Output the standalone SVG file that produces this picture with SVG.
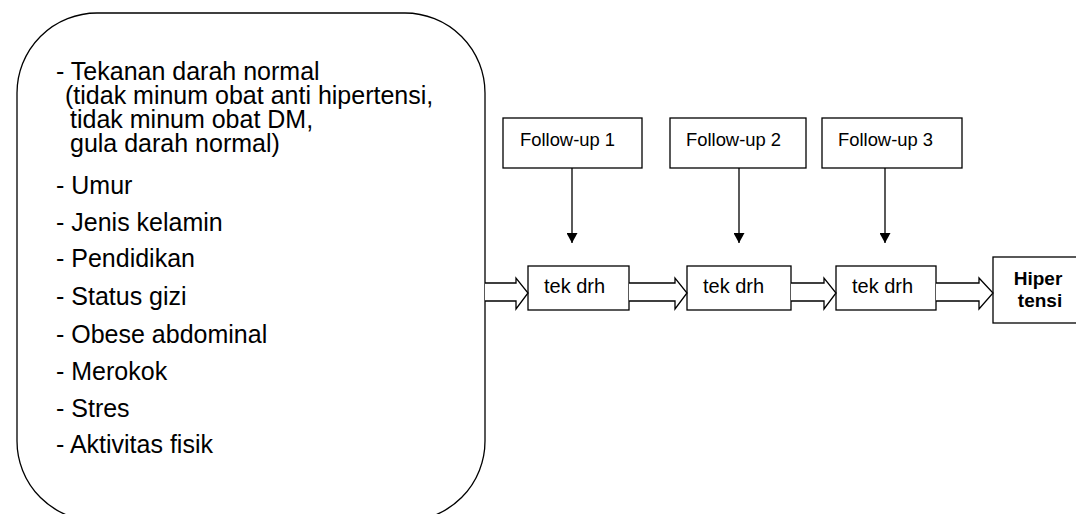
<svg xmlns="http://www.w3.org/2000/svg" width="1076" height="514" viewBox="0 0 1076 514">
<style>
.t{font-family:"Liberation Sans",Arial,sans-serif;font-size:25px;fill:#000}
.f{font-family:"Liberation Sans",Arial,sans-serif;font-size:18.4px;fill:#000}
.k{font-family:"Liberation Sans",Arial,sans-serif;font-size:20px;fill:#000}
.h{font-family:"Liberation Sans",Arial,sans-serif;font-size:19px;font-weight:bold;fill:#000}
.box{fill:#fff;stroke:#000;stroke-width:1.3}
.ln{fill:none;stroke:#000;stroke-width:1.3}
.ba{fill:#fff;stroke:#000;stroke-width:1.3;stroke-linejoin:miter}
</style>
<defs>
<marker id="ah" markerWidth="11" markerHeight="11" refX="10" refY="5.5" orient="auto" markerUnits="userSpaceOnUse">
<path d="M0,0 L10,5.5 L0,11 Z" fill="#000"/>
</marker>
</defs>
<rect width="1076" height="514" fill="#fff"/>
<g id="factors">
<rect class="box" x="17" y="13" width="468" height="508" rx="80" ry="80"/>
<text class="t" x="56" y="80">- Tekanan darah normal<tspan x="65" dy="24">(tidak minum obat anti hipertensi,</tspan><tspan x="70" dy="24">tidak minum obat DM,</tspan><tspan x="70" dy="24">gula darah normal)</tspan></text>
<text class="t" x="56" y="194">- Umur</text>
<text class="t" x="56" y="231">- Jenis kelamin</text>
<text class="t" x="56" y="267">- Pendidikan</text>
<text class="t" x="56" y="305">- Status gizi</text>
<text class="t" x="56" y="343">- Obese abdominal</text>
<text class="t" x="56" y="380">- Merokok</text>
<text class="t" x="56" y="417">- Stres</text>
<text class="t" x="56" y="453">- Aktivitas fisik</text>
</g>
<g id="fu1"><rect class="box" x="503" y="118" width="139" height="50"/><text class="f" x="520" y="146">Follow-up 1</text></g>
<g id="fu2"><rect class="box" x="670" y="118" width="136" height="50"/><text class="f" x="686" y="146">Follow-up 2</text></g>
<g id="fu3"><rect class="box" x="822" y="118" width="140" height="50"/><text class="f" x="838" y="146">Follow-up 3</text></g>
<g id="td1"><rect class="box" x="528" y="266" width="101" height="44"/><text class="k" x="544" y="293">tek drh</text></g>
<g id="td2"><rect class="box" x="687" y="266" width="104" height="44"/><text class="k" x="703" y="293">tek drh</text></g>
<g id="td3"><rect class="box" x="836" y="266" width="100" height="44"/><text class="k" x="852" y="293">tek drh</text></g>
<g id="hiper"><rect class="box" x="993" y="257" width="92" height="66"/><text class="h" x="1038" y="285" text-anchor="middle">Hiper</text><text class="h" x="1040" y="307" text-anchor="middle">tensi</text></g>
<g id="connectors">
<line class="ln" x1="572" y1="168" x2="572" y2="243" marker-end="url(#ah)"/>
<line class="ln" x1="739" y1="168" x2="739" y2="243" marker-end="url(#ah)"/>
<line class="ln" x1="885" y1="168" x2="885" y2="243" marker-end="url(#ah)"/>
<path class="ba" d="M485,283 H516 V278 L528,293 L516,309 V301 H485"/>
<path class="ba" d="M629,283 H675 V278 L687,293 L675,309 V301 H629"/>
<path class="ba" d="M791,283 H824 V278 L836,293 L824,309 V301 H791"/>
<path class="ba" d="M936,283 H979 V278 L993,293 L979,309 V301 H936"/>
</g>
</svg>
